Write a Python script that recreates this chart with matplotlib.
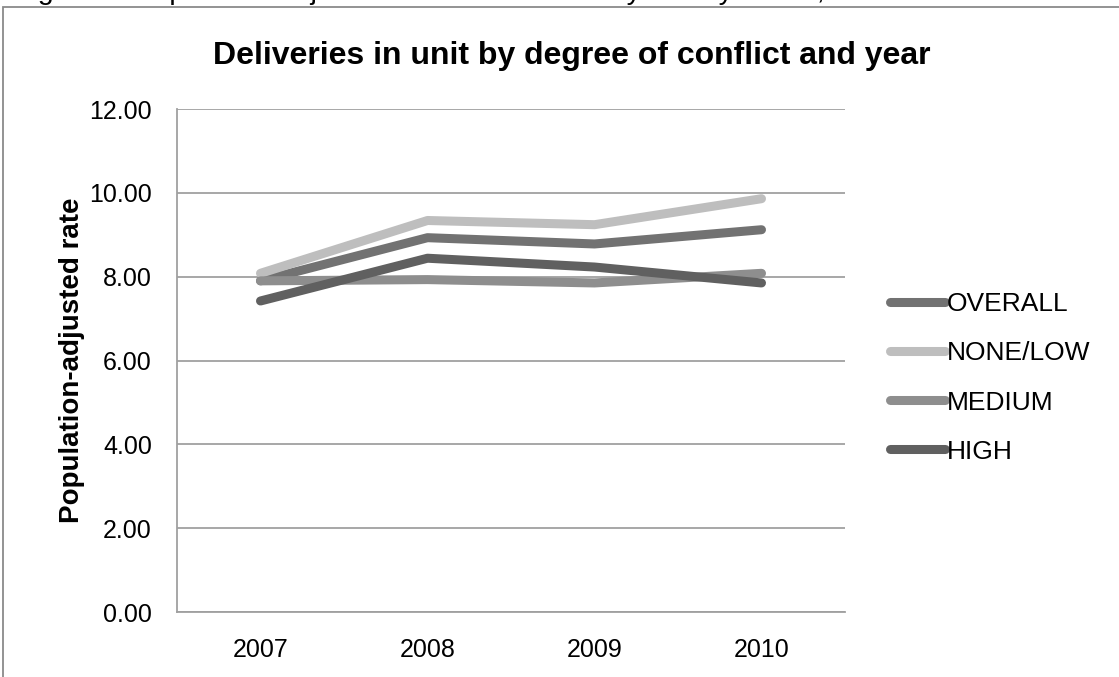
import matplotlib
matplotlib.use("Agg")
import matplotlib.pyplot as plt
from matplotlib.patches import Rectangle

years = ["2007", "2008", "2009", "2010"]
overall = [7.90, 8.93, 8.78, 9.12]
none_low = [8.08, 9.34, 9.24, 9.86]
medium = [7.90, 7.93, 7.85, 8.08]
high = [7.42, 8.44, 8.23, 7.85]
series_names = ["OVERALL", "NONE/LOW", "MEDIUM", "HIGH"]
y_ticks = [0, 2, 4, 6, 8, 10, 12]

colors = ["#727272", "#bebebe", "#8e8e8e", "#606060"]

plt.rcParams['font.family'] = ['Liberation Sans', 'DejaVu Sans']

W, H = 1119, 677
fig = plt.figure(figsize=(W / 100, H / 100), dpi=100)
fig.patch.set_facecolor("white")

# outer border (clipped frame)
fig.add_artist(Rectangle((3 / W, -0.1), 1.2, 1 - 7 / H + 0.1, transform=fig.transFigure,
                         fill=False, edgecolor="#8a8a8a", linewidth=1.3))

# caption at top, cut off by the page edge as in the source
fig.text(14 / W, 1 + 1 / H, "Figure 3. Population-adjusted rate of deliveries by county in unit, 2007-2010",
         fontsize=20.5, ha="left", va="baseline", color="black")

ax = fig.add_axes([177 / W, 1 - 612 / H, (845 - 177) / W, (612 - 109) / H])
x = list(range(len(years)))
for vals, name, c in zip([overall, none_low, medium, high], series_names, colors):
    ax.plot(x, vals, color=c, linewidth=6.5, solid_capstyle="round", solid_joinstyle="round", label=name)

ax.set_xlim(-0.5, len(years) - 0.5)
ax.set_ylim(0, 12)
ax.set_yticks(y_ticks)
ax.set_yticklabels([f"{v:.2f}" for v in y_ticks], fontsize=18)
ax.set_xticks(x)
ax.set_xticklabels(years, fontsize=18)
ax.tick_params(axis="y", length=0, pad=18)
ax.tick_params(axis="x", length=0, pad=19)
ax.yaxis.grid(True, color="#a0a0a0", linewidth=1.3)
ax.set_axisbelow(True)
for s in ["top", "right"]:
    ax.spines[s].set_visible(False)
for s in ["left", "bottom"]:
    ax.spines[s].set_color("#a0a0a0")
    ax.spines[s].set_linewidth(1.3)

ax.set_ylabel("Population-adjusted rate", fontsize=20, fontweight="bold", labelpad=3)
fig.text(572 / W, 1 - 56 / H, "Deliveries in unit by degree of conflict and year",
         fontsize=23, fontweight="bold", ha="center", va="center")

leg = ax.legend(loc="center left", bbox_to_anchor=(866 / W, 1 - 378 / H), bbox_transform=fig.transFigure,
                frameon=False, fontsize=19, handlelength=2.1, handletextpad=0.05, labelspacing=0.95)

fig.savefig("out.png", dpi=100)
